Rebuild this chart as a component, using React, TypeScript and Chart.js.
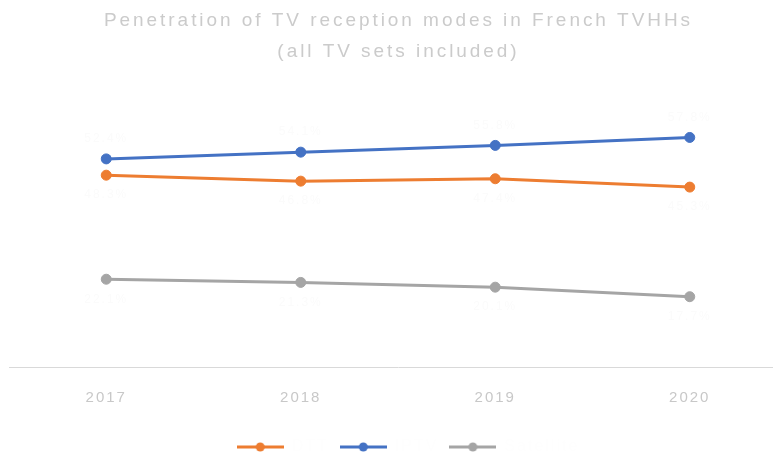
import React, { useEffect, useRef } from 'react';
import { Chart, registerables } from 'chart.js';

Chart.register(...registerables);

const titleLines = ['Penetration of TV reception modes in French TVHHs', '(all TV sets included)'];
const categories = ['2017', '2018', '2019', '2020'];
const seriesNames = ['DTT', 'IPTV', 'Satellite'];
const dttValues = [48.3, 46.8, 47.4, 45.3];
const iptvValues = [52.4, 54.1, 55.8, 57.8];
const satelliteValues = [22.1, 21.3, 20.1, 17.7];
const seriesColors = ['#ED7D31', '#4472C4', '#A5A5A5'];
const labelSides = [1, -1, 1]; // 1 = below, -1 = above

const FONT = '"Liberation Sans", Arial, sans-serif';

function legendMarker(color: string) {
  const c = document.createElement('canvas');
  c.width = 47;
  c.height = 12;
  const g = c.getContext('2d')!;
  g.strokeStyle = color;
  g.lineWidth = 3;
  g.beginPath();
  g.moveTo(0, 6);
  g.lineTo(47, 6);
  g.stroke();
  g.fillStyle = color;
  g.beginPath();
  g.arc(23.5, 6, 4.5, 0, Math.PI * 2);
  g.fill();
  return c;
}

const spacingPlugin = {
  id: 'spacing',
  beforeUpdate(chart: any) {
    chart.ctx.letterSpacing = '2px';
  },
  afterLayout(chart: any) {
    if (chart.legend) {
      chart.legend.left += 10;
      chart.legend.right += 10;
    }
  },
  beforeDraw(chart: any) {
    chart.ctx.letterSpacing = '2px';
  },
};

const titlePlugin = {
  id: 'customTitle',
  afterDraw(chart: any) {
    const ctx = chart.ctx;
    ctx.save();
    ctx.letterSpacing = '2.95px';
    ctx.font = `19px ${FONT}`;
    ctx.fillStyle = '#cbcbcb';
    ctx.textAlign = 'center';
    ctx.textBaseline = 'middle';
    titleLines.forEach((t, i) => ctx.fillText(t, chart.width / 2 + 1.5, 21 + i * 31));
    ctx.restore();
  },
};

const dataLabelPlugin = {
  id: 'dataLabels',
  afterDatasetsDraw(chart: any) {
    const ctx = chart.ctx;
    ctx.save();
    ctx.font = `12px ${FONT}`;
    ctx.fillStyle = '#fbfbfb';
    ctx.textAlign = 'center';
    ctx.textBaseline = 'middle';
    chart.data.datasets.forEach((ds: any, di: number) => {
      const meta = chart.getDatasetMeta(di);
      meta.data.forEach((pt: any, i: number) => {
        const v = ds.data[i];
        ctx.fillText(v.toFixed(1) + '%', pt.x, pt.y + labelSides[di] * 20);
      });
    });
    ctx.restore();
  },
};

export default function App() {
  const ref = useRef<HTMLCanvasElement>(null);
  useEffect(() => {
    if (!ref.current) return;
    Chart.defaults.font.family = FONT;
    const values = [dttValues, iptvValues, satelliteValues];
    const markers = seriesColors.map(legendMarker);
    const chart = new Chart(ref.current, {
      type: 'line',
      data: {
        labels: categories,
        datasets: seriesNames.map((name, i) => ({
          label: name,
          data: values[i],
          borderColor: seriesColors[i],
          backgroundColor: seriesColors[i],
          borderWidth: 3,
          pointRadius: 5,
          pointBorderWidth: 1,
          pointBackgroundColor: seriesColors[i],
          pointBorderColor: seriesColors[i],
          tension: 0,
          fill: false,
        })),
      },
      options: {
        animation: false,
        responsive: false,
        layout: { padding: { left: 9, right: 7, top: 89, bottom: 0 } },
        scales: {
          x: {
            offset: true,
            grid: { display: false, drawTicks: false },
            border: { display: true, color: '#d9d9d9', width: 1 },
            ticks: {
              color: '#c8c8c8',
              padding: 2,
              maxRotation: 0,
              font: { size: 15, lineHeight: '57px' as any },
            },
          },
          y: { display: false, min: 0, max: 70 },
        },
        plugins: {
          title: { display: false },
          tooltip: { enabled: false },
          legend: {
            position: 'bottom',
            labels: {
              usePointStyle: true,
              pointStyleWidth: 47,
              padding: 11,
              color: '#fefefe',
              font: { size: 16 },
              generateLabels: (c: any) => {
                const items = (Chart.defaults.plugins.legend.labels as any).generateLabels(c);
                return items.map((it: any, i: number) => ({ ...it, pointStyle: markers[i], fontColor: '#fefefe' }));
              },
            },
          },
        },
      },
      plugins: [spacingPlugin, titlePlugin, dataLabelPlugin],
    });
    return () => chart.destroy();
  }, []);
  return (
    <div style={{ position: 'fixed', left: 0, top: 0, width: 773, height: 452, overflow: 'hidden', background: '#fff' }}>
      <canvas ref={ref} width={794} height={465} style={{ display: 'block' }} />
    </div>
  );
}
